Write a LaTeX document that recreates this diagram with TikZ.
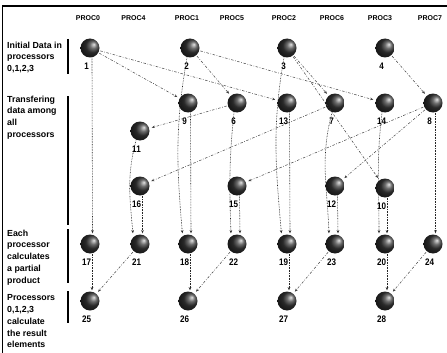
\documentclass[tikz,border=0pt]{standalone}
\usepackage{fontspec}
\setmainfont{Liberation Sans}
\newfontfamily\condfont{Liberation Sans}[FakeStretch=0.85]
\usetikzlibrary{arrows.meta,calc}
\tikzset{
  ballnode/.style={circle, minimum size=19pt, inner sep=0pt, shading=ball, ball color=gray!45!black, shading angle=-90},
  numlab/.style={font=\condfont\bfseries\fontsize{9.5}{9.5}\selectfont, inner sep=0pt},
  hdr/.style={font=\bfseries\fontsize{7}{8}\selectfont, inner sep=0pt},
  sidetext/.style={font=\bfseries\fontsize{8.8}{11.8}\selectfont, align=left, anchor=north west, inner sep=0pt},
  tip/.style={-{Stealth[length=3.2pt,width=2.6pt]}},
  dotln/.style={tip, draw=black!85, line width=0.6pt, dash pattern=on 0.7pt off 0.9pt, shorten >=1pt},
  dashln/.style={tip, draw=black!75, line width=0.5pt, dash pattern=on 2.5pt off 1.6pt on 0.7pt off 1.6pt, shorten >=2.5pt, shorten <=1pt},
  bar/.style={line width=1.3pt},
}
\newcommand\ballnd[4]{\node[ballnode] (#1) at (#2,-#3) {}; \node[numlab] (#1l) at (#2-3.5,-#3-18) {#4};}
\begin{document}
\begin{tikzpicture}[x=1pt,y=1pt]
\useasboundingbox (0,0) rectangle (447,-353);
% frame
\draw[line width=1.8pt] (2.5,-353) -- (2.5,-6) -- (447,-6);
% side bars
\draw[bar] (68,-39) -- (68,-74);
\draw[bar] (68,-96) -- (68,-225);
\draw[bar] (68,-229) -- (68,-283);
\draw[bar] (68,-291) -- (68,-323);
% side texts
\node[sidetext] (t1) at (7,-41.5) {Initial Data in\\processors\\0,1,2,3};
\node[sidetext] (t2) at (7,-95.5) {Transfering\\data among\\all\\processors};
\node[sidetext] (t3) at (7,-229.5) {Each\\processor\\calculates\\a partial\\product};
\node[sidetext] (t4) at (7,-294.5) {Processors\\0,1,2,3\\calculate\\the result\\elements};
% headers
\node[hdr] (h0) at (88,-18) {PROC0};
\node[hdr] (h4) at (133.5,-18) {PROC4};
\node[hdr] (h1) at (187,-18) {PROC1};
\node[hdr] (h5) at (232,-18) {PROC5};
\node[hdr] (h2) at (284,-18) {PROC2};
\node[hdr] (h6) at (332,-18) {PROC6};
\node[hdr] (h3) at (380,-18) {PROC3};
\node[hdr] (h7) at (430,-18) {PROC7};
% row 1
\ballnd{1}{90}{48}{1}
\ballnd{2}{190}{48}{2}
\ballnd{3}{287}{48}{3}
\ballnd{4}{385}{48}{4}
% row 2
\ballnd{9}{188}{103}{9}
\ballnd{6}{237}{103}{6}
\ballnd{13}{287}{103}{13}
\ballnd{7}{335}{103}{7}
\ballnd{14}{385}{103}{14}
\ballnd{8}{433}{103}{8}
% row 3
\ballnd{11}{140}{131}{11}
% row 4
\ballnd{16}{140}{186}{16}
\ballnd{15}{237}{186}{15}
\ballnd{12}{335}{186}{12}
\ballnd{10}{385}{188}{10}
% row 5
\ballnd{17}{90}{244}{17}
\ballnd{21}{140}{244}{21}
\ballnd{18}{188}{244}{18}
\ballnd{22}{237}{244}{22}
\ballnd{19}{287}{244}{19}
\ballnd{23}{335}{244}{23}
\ballnd{20}{385}{244}{20}
\ballnd{24}{433}{244}{24}
% row 6
\ballnd{25}{90}{301}{25}
\ballnd{26}{188}{301}{26}
\ballnd{27}{287}{301}{27}
\ballnd{28}{385}{301}{28}
% distribution (dashed)
\draw[dashln] (1) -- (9);
\draw[dashln] (1) -- (13);
\draw[dashln] (2) -- (6);
\draw[dashln] (2) -- (14);
\draw[dashln] (3) -- (7);
\draw[dashln] (3) -- (10);
\draw[dashln] (4) -- (8);
\draw[dashln] (6) -- (11);
\draw[dashln] (7) -- (16);
\draw[dashln] (8) -- (15);
\draw[dashln] (8) -- (12);
% vertical dotted, right slot
\draw[dotln] ([xshift=2pt]1.south) -- ([xshift=2.5pt]17.north);
\draw[dotln] ([xshift=2.5pt]9.south) -- ([xshift=3pt]18.north);
\draw[dotln] ([xshift=2.5pt]13.south) -- ([xshift=3pt]19.north);
\draw[dotln] ([xshift=2.5pt]16.south) -- ([xshift=2.5pt]21.north);
\draw[dotln] ([xshift=2.5pt]15.south) -- ([xshift=3pt]22.north);
\draw[dotln] ([xshift=2.5pt]12.south) -- ([xshift=3pt]23.north);
\draw[dotln] ([xshift=2pt]10.south) -- ([xshift=2pt]20.north);
\draw[dotln] ([xshift=2.5pt]8.south) -- ([xshift=2.5pt]24.north);
% dotted, left slot (curved)
\draw[dotln] ([xshift=-3pt]2.south) to[out=-100,in=95] ([xshift=-5.5pt]18.north);
\draw[dotln] ([xshift=-3pt]3.south) to[out=-100,in=95] ([xshift=-5.5pt]19.north);
\draw[dotln] ([xshift=-3pt]6.south) to[out=-96,in=92] ([xshift=-6pt]22.north);
\draw[dotln] ([xshift=-4pt]11.south) to[out=-105,in=95] ([xshift=-7pt]21.north);
\draw[dotln] ([xshift=-3pt]7.south) to[out=-105,in=92] ([xshift=-6pt]23.north);
\draw[dotln] ([xshift=-3pt]14.south) to[out=-97,in=90] ([xshift=-6pt]20.north);
% final stage
\draw[dotln] ([xshift=2pt]17.south) -- ([xshift=2pt]25.north);
\draw[dotln] ([xshift=2pt]18.south) -- ([xshift=2pt]26.north);
\draw[dotln] ([xshift=2pt]19.south) -- ([xshift=2pt]27.north);
\draw[dotln] ([xshift=2pt]20.south) -- ([xshift=2pt]28.north);
\draw[dashln] (21) -- (25);
\draw[dashln] (22) -- (26);
\draw[dashln] (23) -- (27);
\draw[dashln] (24) -- (28);
\end{tikzpicture}
\end{document}
